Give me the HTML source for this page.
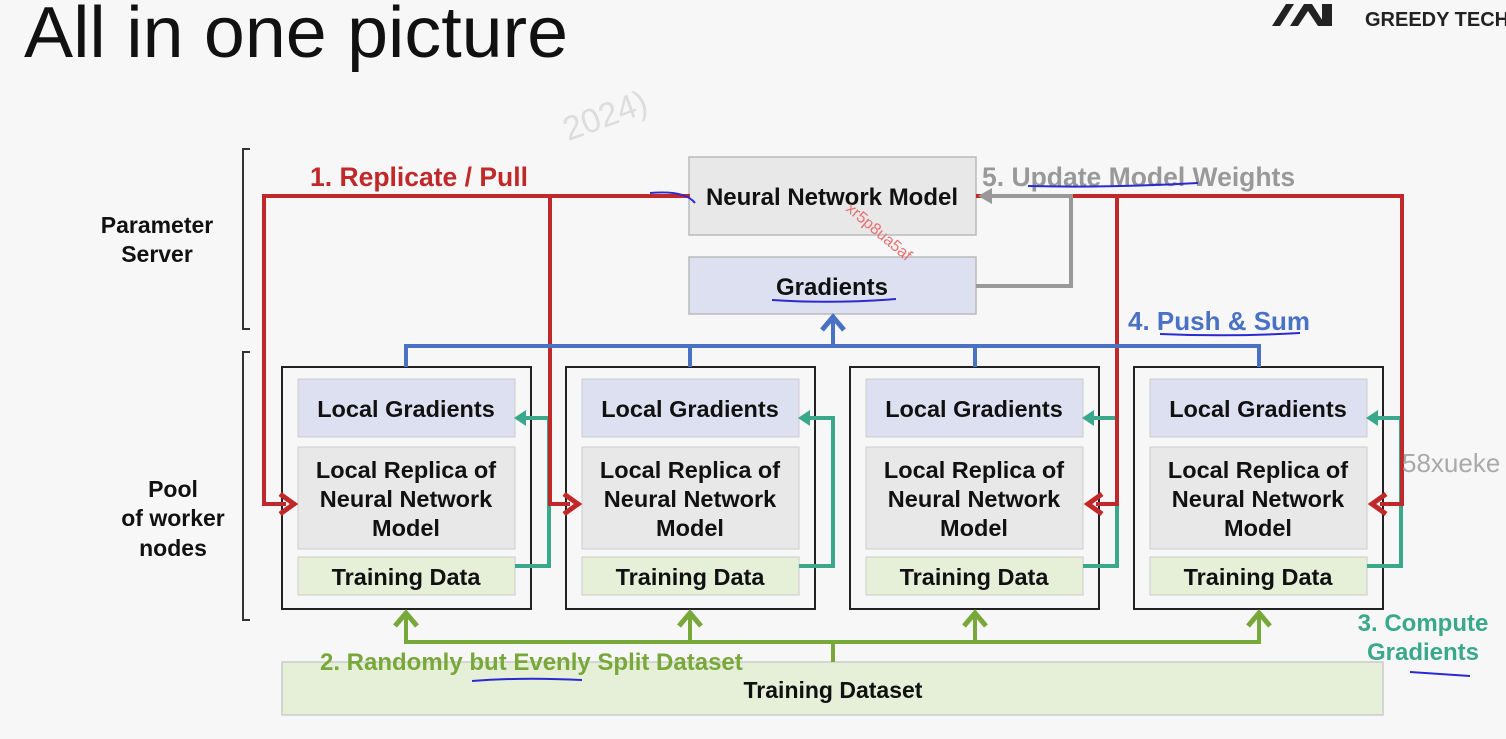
<!DOCTYPE html>
<html><head><style>
body{margin:0;background:#f7f7f7;}
svg{display:block;font-family:"Liberation Sans",Arial,sans-serif;}
</style></head><body>
<svg width="1506" height="739" viewBox="0 0 1506 739" xmlns="http://www.w3.org/2000/svg">
<rect width="1506" height="739" fill="#f7f7f7"/>
<text x="24" y="57" font-size="72" fill="#111" textLength="544" lengthAdjust="spacingAndGlyphs">All in one picture</text>
<path d="M1272 26 l14 -22 h8 l-14 22z M1290 26 l14 -22 h8 l14 22 h-8 l-10 -15 l-10 15z M1322 4 h10 v22 h-10z" fill="#222"/>
<text x="1365" y="26" font-size="20" font-weight="bold" fill="#222">GREEDY TECH</text>
<text x="560" y="125" font-size="34" fill="#ddd" transform="rotate(-20 610 110)">2024)</text>

<!-- brackets -->
<path d="M250 149 H243 V329 H250" fill="none" stroke="#333" stroke-width="2"/>
<path d="M250 352 H243 V620 H250" fill="none" stroke="#333" stroke-width="2"/>
<g font-size="23" font-weight="bold" fill="#111" text-anchor="middle">
<text x="157" y="233">Parameter</text><text x="157" y="262">Server</text>
<text x="173" y="497">Pool</text><text x="173" y="526">of worker</text><text x="173" y="556">nodes</text>
</g>

<!-- server boxes -->
<rect x="689" y="157" width="287" height="78" fill="#e8e8e8" stroke="#bbb" stroke-width="1.5"/>
<text x="832" y="205" font-size="24" font-weight="bold" text-anchor="middle" fill="#111">Neural Network Model</text>
<rect x="689" y="257" width="287" height="57" fill="#dde0f0" stroke="#bbb" stroke-width="1.5"/>
<text x="832" y="295" font-size="24" font-weight="bold" text-anchor="middle" fill="#111">Gradients</text>

<!-- dataset -->
<rect x="282" y="662" width="1101" height="53" fill="#e6efd8" stroke="#ccc" stroke-width="1.5"/>
<text x="833" y="698" font-size="23" font-weight="bold" text-anchor="middle" fill="#111">Training Dataset</text>

<!-- workers -->
<g font-size="23.5" font-weight="bold" text-anchor="middle" fill="#111">
<g>
<rect x="282" y="367" width="249" height="242" fill="#f7f7f7" stroke="#222" stroke-width="2"/>
<rect x="298" y="379" width="217" height="58" fill="#dde0f0" stroke="#ccc"/>
<text x="406" y="417">Local Gradients</text>
<rect x="298" y="447" width="217" height="102" fill="#e8e8e8" stroke="#ccc"/>
<text x="406" y="478">Local Replica of</text><text x="406" y="507">Neural Network</text><text x="406" y="536">Model</text>
<rect x="298" y="557" width="217" height="38" fill="#e6efd8" stroke="#ccc"/>
<text x="406" y="585">Training Data</text>
</g>
<g transform="translate(284,0)">
<rect x="282" y="367" width="249" height="242" fill="#f7f7f7" stroke="#222" stroke-width="2"/>
<rect x="298" y="379" width="217" height="58" fill="#dde0f0" stroke="#ccc"/>
<text x="406" y="417">Local Gradients</text>
<rect x="298" y="447" width="217" height="102" fill="#e8e8e8" stroke="#ccc"/>
<text x="406" y="478">Local Replica of</text><text x="406" y="507">Neural Network</text><text x="406" y="536">Model</text>
<rect x="298" y="557" width="217" height="38" fill="#e6efd8" stroke="#ccc"/>
<text x="406" y="585">Training Data</text>
</g>
<g transform="translate(568,0)">
<rect x="282" y="367" width="249" height="242" fill="#f7f7f7" stroke="#222" stroke-width="2"/>
<rect x="298" y="379" width="217" height="58" fill="#dde0f0" stroke="#ccc"/>
<text x="406" y="417">Local Gradients</text>
<rect x="298" y="447" width="217" height="102" fill="#e8e8e8" stroke="#ccc"/>
<text x="406" y="478">Local Replica of</text><text x="406" y="507">Neural Network</text><text x="406" y="536">Model</text>
<rect x="298" y="557" width="217" height="38" fill="#e6efd8" stroke="#ccc"/>
<text x="406" y="585">Training Data</text>
</g>
<g transform="translate(852,0)">
<rect x="282" y="367" width="249" height="242" fill="#f7f7f7" stroke="#222" stroke-width="2"/>
<rect x="298" y="379" width="217" height="58" fill="#dde0f0" stroke="#ccc"/>
<text x="406" y="417">Local Gradients</text>
<rect x="298" y="447" width="217" height="102" fill="#e8e8e8" stroke="#ccc"/>
<text x="406" y="478">Local Replica of</text><text x="406" y="507">Neural Network</text><text x="406" y="536">Model</text>
<rect x="298" y="557" width="217" height="38" fill="#e6efd8" stroke="#ccc"/>
<text x="406" y="585">Training Data</text>
</g>
</g>

<!-- teal compute arrows -->
<g fill="none" stroke="#3aa88a" stroke-width="4">
<path d="M515 566 H549 V418 H522"/>
<path d="M799 566 H833 V418 H806"/>
<path d="M1083 566 H1117 V418 H1090"/>
<path d="M1367 566 H1401 V418 H1374"/>
</g>
<g fill="#3aa88a">
<path d="M514 418 l12 -8 v16z"/><path d="M798 418 l12 -8 v16z"/><path d="M1082 418 l12 -8 v16z"/><path d="M1366 418 l12 -8 v16z"/>
</g>

<!-- red replicate -->
<g fill="none" stroke="#c0282a" stroke-width="4">
<path d="M690 196 H264 V504 H286"/>
<path d="M550 196 V504 H570"/>
<path d="M976 196 H1402 V504 H1380"/>
<path d="M1117 196 V504 H1096"/>
</g>
<g fill="none" stroke="#c0282a" stroke-width="5">
<path d="M280 494 l14 10 l-14 10"/><path d="M564 494 l14 10 l-14 10"/>
<path d="M1386 494 l-14 10 l14 10"/><path d="M1102 494 l-14 10 l14 10"/>
</g>
<text x="310" y="186" font-size="26.5" font-weight="bold" fill="#c0282a">1. Replicate / Pull</text>

<!-- gray update -->
<path d="M976 286 H1071 V196 H990" fill="none" stroke="#999" stroke-width="4"/>
<path d="M978 196 l14 -8 v16z" fill="#999"/>
<text x="982" y="186" font-size="26.5" font-weight="bold" fill="#999">5. Update Model Weights</text>

<!-- blue push -->
<g fill="none" stroke="#4a72c4" stroke-width="4">
<path d="M406 367 V346 H1259 V367"/>
<path d="M690 346 V367 M975 346 V367 M833 346 V320"/>
</g>
<path d="M822 330 l11 -13 l11 13" fill="none" stroke="#4a72c4" stroke-width="5"/>
<text x="1128" y="330" font-size="26" font-weight="bold" fill="#4a72c4">4. Push &amp; Sum</text>

<!-- green split -->
<g fill="none" stroke="#78a83a" stroke-width="4">
<path d="M833 662 V642 M406 616 V642 H1259 V616 M690 616 V642 M975 616 V642"/>
</g>
<g fill="none" stroke="#78a83a" stroke-width="5">
<path d="M395 626 l11 -13 l11 13"/><path d="M679 626 l11 -13 l11 13"/><path d="M964 626 l11 -13 l11 13"/><path d="M1248 626 l11 -13 l11 13"/>
</g>
<text x="320" y="670" font-size="24" font-weight="bold" fill="#78a83a">2. Randomly but Evenly Split Dataset</text>
<text x="1423" y="631" font-size="24" font-weight="bold" fill="#3aa88a" text-anchor="middle">3. Compute</text>
<text x="1423" y="660" font-size="24" font-weight="bold" fill="#3aa88a" text-anchor="middle">Gradients</text>

<text x="1402" y="472" font-size="26" fill="#aaa">58xueke</text>
<text x="845" y="210" font-size="16" fill="#e87070" transform="rotate(40 845 210)">xr5p8ua5af</text>

<!-- handwritten underlines -->
<g fill="none" stroke="#2a2ad0" stroke-width="2">
<path d="M650 193 q35 -3 45 10"/>
<path d="M772 300 q60 4 124 -1"/>
<path d="M1028 186 q80 2 170 -3"/>
<path d="M1160 334 q70 3 140 -1"/>
<path d="M472 681 q50 -4 110 -1"/>
<path d="M1410 672 q30 2 60 4"/>
</g>
</svg>
</body></html>
